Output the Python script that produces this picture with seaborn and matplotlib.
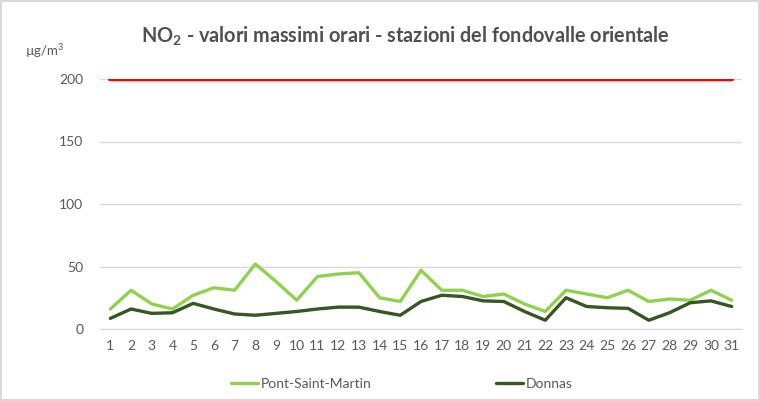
import matplotlib
matplotlib.use("Agg")
import matplotlib.pyplot as plt
import pandas as pd
import seaborn as sns

giorni = list(range(1, 32))
pont_saint_martin = [16, 31, 20, 16, 27, 33, 31, 52, 38, 23, 42, 44, 45, 25, 22,
                     47, 31, 31, 26, 28, 20, 14, 31, 28, 25, 31, 22, 24, 23, 31, 23]
donnas = [8.5, 16, 12.5, 13, 20.5, 16, 12, 11, 12.5, 14, 16, 17.5, 17.5, 14, 11,
          22, 27, 26, 22.5, 22, 14, 7, 25, 18, 17, 16.5, 7, 13, 21, 22.5, 18]
limite = [200] * 31

df = pd.DataFrame({"giorno": giorni, "Pont-Saint-Martin": pont_saint_martin,
                   "Donnas": donnas, "limite": limite})

sns.set_style("white")
plt.rcParams["font.family"] = ["Lato", "DejaVu Sans"]
plt.rcParams["mathtext.fontset"] = "custom"
plt.rcParams["mathtext.rm"] = "Lato"
plt.rcParams["mathtext.bf"] = "Lato:bold"

fig = plt.figure(figsize=(7.6, 4.01), dpi=100)
fig.patch.set_edgecolor("#d9d9d9")
fig.patch.set_linewidth(1.5)
ax = fig.add_axes([100 / 760, 72 / 401, 642 / 760, 250 / 401])

sns.lineplot(data=df, x="giorno", y="limite", ax=ax, color="#ff0000", lw=3.2, legend=False)
sns.lineplot(data=df, x="giorno", y="Pont-Saint-Martin", ax=ax, color="#92d050", lw=2.4,
             label="Pont-Saint-Martin")
sns.lineplot(data=df, x="giorno", y="Donnas", ax=ax, color="#375623", lw=2.4, label="Donnas")

ax.set_xlim(0.5, 31.5)
ax.set_ylim(0, 200)
ax.set_yticks([0, 50, 100, 150, 200])
ax.set_xticks(giorni)
ax.set_xticks([g + 0.5 for g in range(0, 32)], minor=True)
ax.tick_params(axis="x", which="major", length=0, pad=8, labelsize=10, colors="#595959")
ax.tick_params(axis="x", which="minor", length=5, color="#d9d9d9", width=1)
ax.tick_params(axis="y", length=0, pad=12, labelsize=10, colors="#595959")
ax.yaxis.grid(True, color="#d9d9d9", lw=1)
ax.set_axisbelow(True)
for s in ["top", "right", "left"]:
    ax.spines[s].set_visible(False)
ax.spines["bottom"].set_color("#d9d9d9")
ax.set_xlabel("")
ax.set_ylabel("")

fig.text(405 / 760, 1 - 36 / 401, r"NO$_\mathbf{2}$ - valori massimi orari - stazioni del fondovalle orientale",
         ha="center", va="center", fontsize=14.3, fontweight="bold", color="#505050")
fig.text(25 / 760, 1 - 51 / 401, "µg/m$^3$", ha="left", va="center", fontsize=9.5, color="#595959")

ax.get_legend().remove()
h, l = ax.get_legend_handles_labels()
fig.legend(h, l, loc="center left", bbox_to_anchor=(218 / 760, 1 - 384 / 401), ncol=2,
           frameon=False, fontsize=10, handlelength=1.95, handletextpad=0.2,
           columnspacing=9.0, labelcolor="#595959")

fig.savefig("out.png", dpi=100)
